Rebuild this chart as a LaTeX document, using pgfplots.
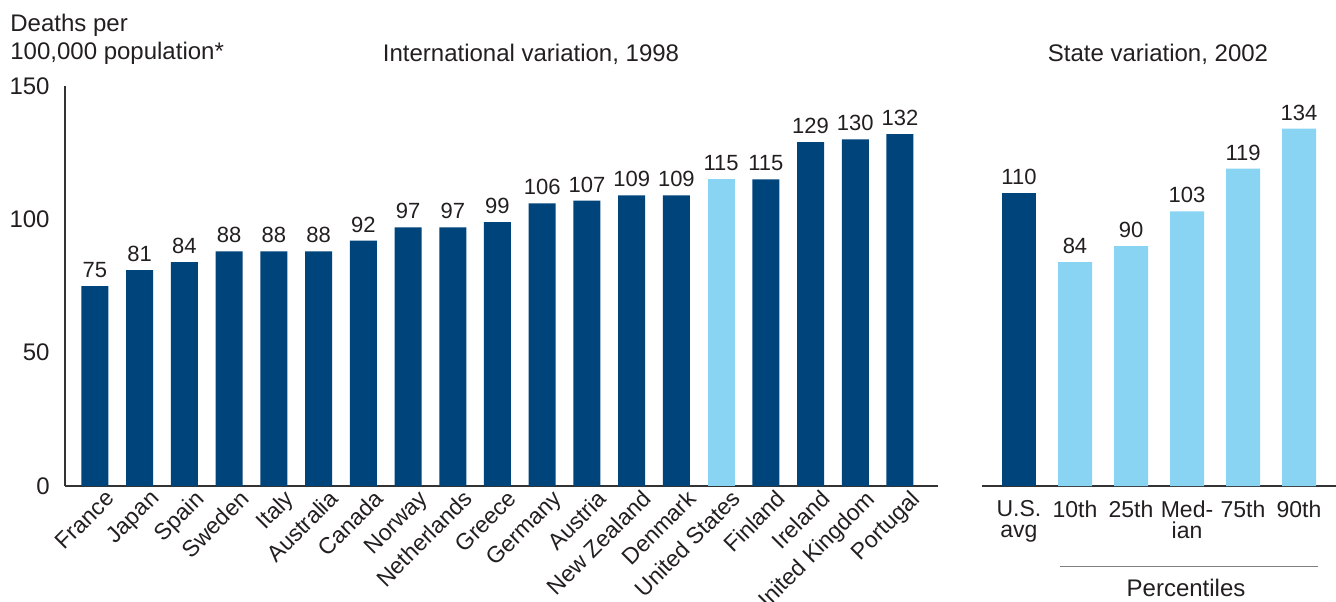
\documentclass[border=0pt]{standalone}
\usepackage{fontspec}
\setmainfont{Liberation Sans}
\usepackage{pgfplots}
\pgfplotsset{compat=1.18}

\definecolor{darkblue}{RGB}{0,68,124}
\definecolor{lightblue}{RGB}{137,211,243}
\definecolor{txt}{RGB}{35,31,32}
\definecolor{axisgray}{RGB}{51,51,51}

\pgfplotsset{
  barbase/.style={
    scale only axis, height=200pt,
    ymin=0, ymax=150, enlargelimits=false, clip=false,
    ybar, bar shift=0pt,
    axis line style={axisgray, line width=1.2pt, -},
    major tick length=0pt, tick style={draw=none},
    ticklabel style={text=txt, font=\fontsize{11.5}{10.5}\selectfont},
    /pgf/number format/assume math mode=true,
    nodes near coords,
    every node near coord/.append style={font=\fontsize{11}{13}\selectfont,
      text=txt, inner sep=0pt, anchor=south, yshift=4pt},
  }
}

\begin{document}
\begin{tikzpicture}
\path[use as bounding box] (0,0) rectangle (668pt,300.5pt);

% international panel
\begin{axis}[barbase,
    at={(32.5pt,57.5pt)}, anchor=south west, width=436.5pt,
    xmin=-0.67, xmax=18.85, bar width=13.5pt,
    axis x line*=bottom, axis y line*=left,
    ytick={0,50,100,150},
    yticklabel style={inner sep=0pt, xshift=-7.5pt, font=\fontsize{12}{14}\selectfont},
    xtick={0,...,18},
    xticklabels={France,Japan,Spain,Sweden,Italy,Australia,Canada,Norway,Netherlands,
      Greece,Germany,Austria,New Zealand,Denmark,United States,Finland,Ireland,
      United Kingdom,Portugal},
    xticklabel style={rotate=45, anchor=north east, inner sep=0pt, xshift=2.5pt, yshift=-4pt},
  ]
  \addplot[fill=darkblue, draw=none] coordinates {
    (0,75) (1,81) (2,84) (3,88) (4,88) (5,88) (6,92) (7,97) (8,97) (9,99)
    (10,106) (11,107) (12,109) (13,109) (15,115) (16,129) (17,130) (18,132)};
  \addplot[fill=lightblue, draw=none] coordinates {(14,115)};
\end{axis}

% state panel
\begin{axis}[barbase,
    at={(491pt,57.5pt)}, anchor=south west, width=177pt,
    xmin=-0.66, xmax=5.66, bar width=17pt,
    axis x line*=bottom, axis y line=none,
    xtick={0,...,5},
    xticklabels={{U.S.\\avg},10th,25th,{Med-\\ian},75th,90th},
    xticklabel style={align=center, anchor=north, inner sep=0pt, yshift=-7pt},
  ]
  \addplot[fill=darkblue, draw=none] coordinates {(0,110)};
  \addplot[fill=lightblue, draw=none] coordinates {(1,84) (2,90) (3,103) (4,119) (5,134)};
\end{axis}

\begin{scope}[every node/.style={text=txt, inner sep=0pt, font=\fontsize{12}{14}\selectfont}]
  \node[anchor=base west] at (5pt,284.5pt) {Deaths per};
  \node[anchor=base west] at (5pt,270.5pt) {100,000 population*};
  \node[anchor=base] at (265.5pt,269.5pt) {International variation, 1998};
  \node[anchor=base] at (579pt,269.5pt) {State variation, 2002};
  \node[anchor=base] at (593pt,2.5pt) {Percentiles};
\end{scope}
\draw[gray, line width=0.5pt] (530pt,17.5pt) -- (659pt,17.5pt);
\end{tikzpicture}
\end{document}
